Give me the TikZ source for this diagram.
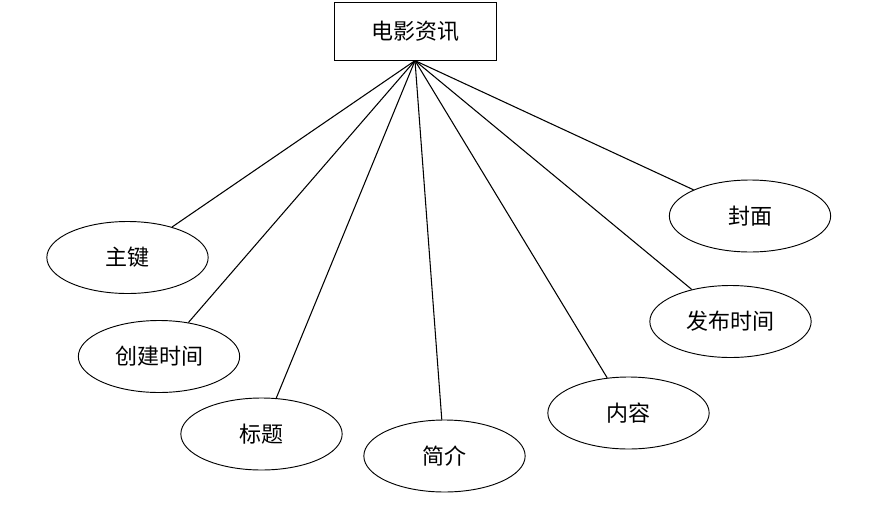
\documentclass[tikz,border=0pt]{standalone}
\usepackage{fontspec}
\newfontfamily\cjk{Noto Sans CJK SC}
\usetikzlibrary{shapes.geometric}

\begin{document}
\begin{tikzpicture}[x=0.75pt, y=-0.75pt, font=\cjk\fontsize{16.5pt}{19pt}\selectfont]
        \tikzset{
        entity/.style = {draw, line width=0.7pt, rectangle, minimum width=121.5pt, minimum height=43pt, inner sep=0pt},
        attr/.style   = {draw, line width=0.7pt, ellipse, minimum width=121pt, minimum height=54pt, inner sep=0pt},
        line/.style   = {line width=0.8pt}
        }
        \useasboundingbox (0,0) rectangle (872,507);

        % Entity
        \node[entity] (news) at (415,31.5) {电影资讯};

        % Attributes
        \node[attr] (pkey)    at (127.5,257.5) {主键};
        \node[attr] (created) at (159,356.5)   {创建时间};
        \node[attr] (title)   at (261.5,434)   {标题};
        \node[attr] (brief)   at (444.5,456)   {简介};
        \node[attr] (content) at (628.5,413)   {内容};
        \node[attr] (pubtime) at (730.5,321.5) {发布时间};
        \node[attr] (cover)   at (750,216)     {封面};

        % Connections
        \draw[line] (news.south) -- (pkey);
        \draw[line] (news.south) -- (created);
        \draw[line] (news.south) -- (title);
        \draw[line] (news.south) -- (brief);
        \draw[line] (news.south) -- (content);
        \draw[line] (news.south) -- (pubtime);
        \draw[line] (news.south) -- (cover);
    \end{tikzpicture}
\end{document}
